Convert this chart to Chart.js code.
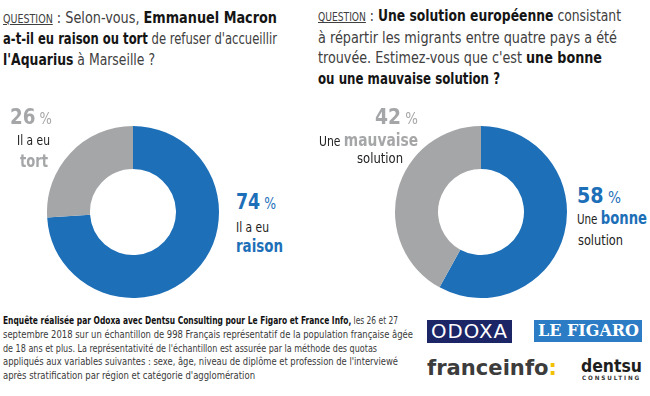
<!DOCTYPE html>
<html>
<head>
<meta charset="utf-8">
<script src="https://cdn.jsdelivr.net/npm/chart.js@4/dist/chart.umd.min.js"></script>
<style>
  body { margin: 0; width: 650px; height: 396px; background: #fff; position: relative; overflow: hidden;
         font-family: "DejaVu Sans Condensed", sans-serif; color: #3a3a3a; }
  .abs { position: absolute; white-space: nowrap; }
  .abs > div { width: max-content; }
  .q { font-size: 15.5px; line-height: 20.5px; color: #404040; }
  .q b { color: #151515; }
  .qs { font-size: 11.5px; text-decoration: underline; }
  .pct { font-size: 21px; font-weight: bold; line-height: 20px; }
  .pct small { font-size: 15px; font-weight: normal; }
  .lbl { font-size: 14.5px; line-height: 14px; color: #222; }
  .big { font-size: 18.5px; line-height: 18px; font-weight: bold; }
  .blue { color: #1d6fb8; }
  .grey { color: #a5a6a8; }
  .note { font-size: 11px; line-height: 13.75px; color: #3a3a3a; }
  .note b { color: #111; }
  canvas { position: absolute; }
</style>
</head>
<body>
<div class="abs q" style="left:3px;top:7.5px">
  <div data-fit="274"><span class="qs">QUESTION</span> : Selon-vous, <b>Emmanuel Macron</b></div>
  <div data-fit="274"><b>a-t-il eu raison ou tort</b> de refuser d'accueillir</div>
  <div data-fit="152"><b>l'Aquarius</b> à Marseille ?</div>
</div>
<div class="abs q" style="left:318px;top:6px">
  <div data-fit="303"><span class="qs">QUESTION</span> : <b>Une solution européenne</b> consistant</div>
  <div data-fit="299">à répartir les migrants entre quatre pays a été</div>
  <div data-fit="284">trouvée. Estimez-vous que c'est <b>une bonne</b></div>
  <div data-fit="182"><b>ou une mauvaise solution ?</b></div>
</div>

<canvas id="chart1" width="172" height="172" style="left:47px;top:126px"></canvas>
<canvas id="chart2" width="172" height="172" style="left:395px;top:126px"></canvas>

<div id="l1a" class="abs pct grey" data-fit="42" style="left:10px;top:107px"></div>
<div class="abs lbl" data-fit="33" style="left:17px;top:133px">Il a eu</div>
<div class="abs big grey" data-fit="28" style="left:20px;top:152px">tort</div>
<div id="l1b" class="abs pct blue" data-fit="40" style="left:236px;top:192px"></div>
<div class="abs lbl" data-fit="33" style="left:236px;top:220px">Il a eu</div>
<div class="abs big blue" data-fit="47" style="left:236px;top:237px">raison</div>

<div id="l2a" class="abs pct grey" data-fit="43" style="left:375px;top:107px"></div>
<div class="abs lbl" data-fit="99" style="left:319px;top:131px">Une <span class="big grey">mauvaise</span></div>
<div class="abs lbl" data-fit="46" style="left:357px;top:151px">solution</div>
<div id="l2b" class="abs pct blue" data-fit="44" style="left:577px;top:186px"></div>
<div class="abs lbl" data-fit="70" style="left:577px;top:209px">Une <span class="big blue">bonne</span></div>
<div class="abs lbl" data-fit="45" style="left:578px;top:233px">solution</div>

<div class="abs note" style="left:3px;top:314px">
  <div data-fit="395"><b>Enquête réalisée par Odoxa avec Dentsu Consulting pour Le Figaro et France Info,</b> les 26 et 27</div>
  <div data-fit="410">septembre 2018 sur un échantillon de 998 Français représentatif de la population française âgée</div>
  <div data-fit="374">de 18 ans et plus. La représentativité de l'échantillon est assurée par la méthode des quotas</div>
  <div data-fit="395">appliqués aux variables suivantes : sexe, âge, niveau de diplôme et profession de l'interviewé</div>
  <div data-fit="252">après stratification par région et catégorie d'agglomération</div>
</div>

<div class="abs" style="left:427px;top:320px;width:85px;height:23px;background:#1c2566"></div>
<div class="abs" data-fit="77" style="left:431px;top:320px;font:20px/23px 'DejaVu Sans';color:#fff;letter-spacing:1px">ODOXA</div>
<div class="abs" style="left:534px;top:320px;width:108px;height:22px;background:#2b7cc4"></div>
<div class="abs" data-fit="101" style="left:538px;top:320px;font:bold 16px/22px 'DejaVu Serif';color:#fff">LE FIGARO</div>
<div class="abs" data-fit="130" style="left:427px;top:356px;font:bold 21px/24px 'DejaVu Sans';color:#3c3c3c">franceinfo<span style="color:#f2c200">:</span></div>
<div class="abs" data-fit="61" style="left:581px;top:355px;font:bold 18px/22px 'DejaVu Sans';color:#1e1e1e">dentsu</div>
<div class="abs" data-fit="59" style="left:582px;top:374px;font:bold 6px/7px 'DejaVu Sans';color:#333;letter-spacing:2px">CONSULTING</div>

<script>
const categories1 = ['Il a eu raison', 'Il a eu tort'];
const values1 = [74, 26];
const categories2 = ['Une bonne solution', 'Une mauvaise solution'];
const values2 = [58, 42];
const colors = ['#1d6fb8', '#a5a6a8'];

function pctLabel(v) {
  return `${v}<small> %</small>`;
}

document.getElementById('l1b').innerHTML = pctLabel(values1[0]);
document.getElementById('l1a').innerHTML = pctLabel(values1[1]);
document.getElementById('l2b').innerHTML = pctLabel(values2[0]);
document.getElementById('l2a').innerHTML = pctLabel(values2[1]);

// squeeze text horizontally to mimic the condensed newspaper font
document.querySelectorAll('[data-fit]').forEach(el => {
  const range = document.createRange();
  range.selectNodeContents(el);
  const w = range.getBoundingClientRect().width;
  el.style.transformOrigin = 'left top';
  el.style.transform = `scaleX(${el.dataset.fit / w})`;
});

function makeDonut(id, labels, values) {
  new Chart(document.getElementById(id), {
    type: 'doughnut',
    data: {
      labels: labels,
      datasets: [{
        data: values,
        backgroundColor: colors,
        borderWidth: 0
      }]
    },
    options: {
      responsive: false,
      animation: false,
      cutout: '50%',
      plugins: {
        legend: { display: false },
        tooltip: { enabled: false }
      }
    }
  });
}

makeDonut('chart1', categories1, values1);
makeDonut('chart2', categories2, values2);
</script>
</body>
</html>
